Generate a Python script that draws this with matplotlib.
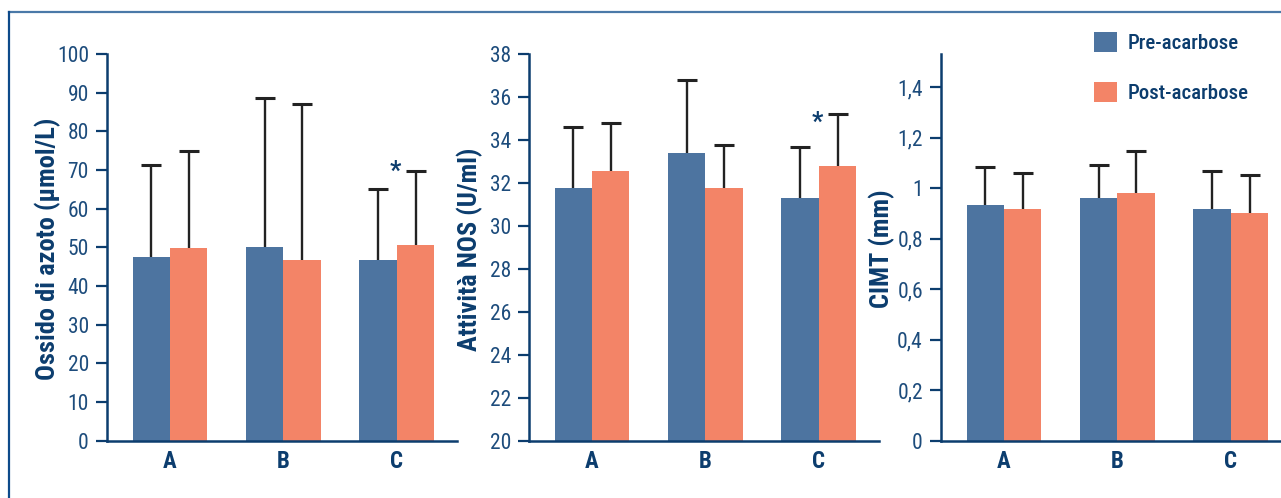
import matplotlib
matplotlib.use("Agg")
import matplotlib.pyplot as plt
import numpy as np
from matplotlib.lines import Line2D

plt.rcParams['font.family'] = ['Roboto Condensed', 'DejaVu Sans']

categories = ["A", "B", "C"]
series = ["Pre-acarbose", "Post-acarbose"]

# Panel 1: Ossido di azoto (µmol/L)
no_pre = [47.5, 50.0, 46.7]
no_pre_top = [71.4, 88.5, 65.0]
no_post = [49.8, 46.7, 50.5]
no_post_top = [75.0, 87.1, 69.7]

# Panel 2: Attività NOS (U/ml)
nos_pre = [31.75, 33.38, 31.28]
nos_pre_top = [34.6, 36.8, 33.66]
nos_post = [32.54, 31.75, 32.79]
nos_post_top = [34.78, 33.75, 35.22]

# Panel 3: CIMT (mm)
cimt_pre = [0.933, 0.960, 0.917]
cimt_pre_top = [1.086, 1.094, 1.070]
cimt_post = [0.917, 0.980, 0.901]
cimt_post_top = [1.062, 1.149, 1.053]

ylabels = ["Ossido di azoto (µmol/L)", "Attività NOS (U/ml)", "CIMT (mm)"]
yticks_list = [list(range(0, 101, 10)), list(range(20, 39, 2)),
               [0, 0.2, 0.4, 0.6, 0.8, 1.0, 1.2, 1.4]]
yticklabels_list = [[str(v) for v in range(0, 101, 10)],
                    [str(v) for v in range(20, 39, 2)],
                    ["0", "0,2", "0,4", "0,6", "0,8", "1", "1,2", "1,4"]]
ylims = [(0, 100), (20, 38), (0, 1.532)]
star_pos = [(1.99, 69.5), (1.99, 34.8), None]

BLUE = "#4d74a0"
ORANGE = "#f38467"
NAVY = "#0c3d6e"
TICKC = "#1d4c7c"
ERRC = "#222222"

W, H = 1281, 498
fig = plt.figure(figsize=(W / 100, H / 100), dpi=100)

# outer frame lines
fig.add_artist(Line2D([9 / W, 1.0], [1 - 12 / H, 1 - 12 / H], color="#4a79a8", lw=1.6,
                      transform=fig.transFigure))
fig.add_artist(Line2D([9 / W, 9 / W], [0, 1 - 12 / H], color="#0d4a8a", lw=1.6,
                      transform=fig.transFigure))

lefts = [107, 529, 941]
axw = 350
bottom = 498 - 440.7
axh = 440.7 - 54

data = [
    (no_pre, no_pre_top, no_post, no_post_top),
    (nos_pre, nos_pre_top, nos_post, nos_post_top),
    (cimt_pre, cimt_pre_top, cimt_post, cimt_post_top),
]

x = np.arange(len(categories))
bw = 0.33
bars_for_legend = None
for i, (pre, pre_top, post, post_top) in enumerate(data):
    ax = fig.add_axes([lefts[i] / W, bottom / H, axw / W, axh / H])
    base = ylims[i][0]
    b1 = ax.bar(x - bw / 2, np.array(pre) - base, bw, bottom=base, color=BLUE, zorder=2)
    b2 = ax.bar(x + bw / 2, np.array(post) - base, bw, bottom=base, color=ORANGE, zorder=2)
    if bars_for_legend is None:
        bars_for_legend = (b1, b2)
    for xs, vals, tops in ((x - bw / 2, pre, pre_top), (x + bw / 2, post, post_top)):
        _, caps, _ = ax.errorbar(xs, vals,
                                 yerr=[np.zeros(3), np.array(tops) - np.array(vals)],
                                 fmt="none", ecolor=ERRC, elinewidth=1.7, capsize=7.5,
                                 capthick=2.2, zorder=1)
        caps[0].set_visible(False)
    ax.set_xlim(-0.555, 2.53)
    ax.set_ylim(*ylims[i])
    ax.set_yticks(yticks_list[i])
    ax.set_yticklabels(yticklabels_list[i])
    ax.set_xticks(x)
    ax.set_xticklabels(categories, fontsize=16.5, fontweight="bold", color=NAVY)
    ax.tick_params(axis="x", length=0, pad=7)
    ax.tick_params(axis="y", length=8, width=1.6, color=NAVY, labelcolor=TICKC,
                   labelsize=15.5, pad=5)
    for s in ["top", "right"]:
        ax.spines[s].set_visible(False)
    for s in ["left", "bottom"]:
        ax.spines[s].set_color(NAVY)
        ax.spines[s].set_linewidth(1.8)
    ax.set_ylabel(ylabels[i], fontsize=19, fontweight="bold", color=NAVY)
    ax.yaxis.set_label_coords(-0.131, 0.496)
    if star_pos[i] is not None:
        ax.text(star_pos[i][0], star_pos[i][1], "*", ha="center", va="center",
                fontsize=18, fontweight="bold", color=NAVY)
    if i == 2:
        ax.legend(bars_for_legend, series, loc="upper left",
                  bbox_to_anchor=(1094 / W, 1 - 32 / H), bbox_transform=fig.transFigure,
                  frameon=False, prop={"size": 15, "weight": 500},
                  handlelength=1.1, handleheight=1.1,
                  handletextpad=0.5, labelspacing=1.4, borderpad=0, borderaxespad=0,
                  labelcolor=NAVY)

fig.savefig("out.png", dpi=100)
